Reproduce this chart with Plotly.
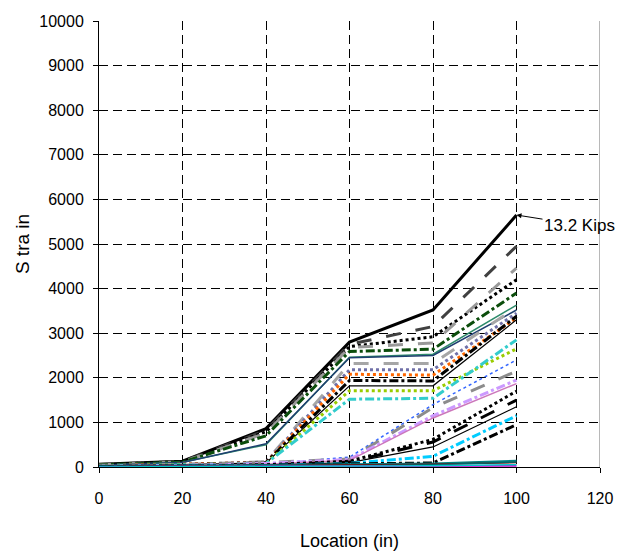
import plotly.graph_objects as go

locations = [0, 20, 40, 60, 80, 100]

# Strain readings per load step (top cluster -> bottom)
s01 = [60, 130, 860, 2800, 3520, 5650]
s02 = [55, 125, 820, 2750, 3150, 4950]
s03 = [50, 120, 790, 2700, 2920, 4200]
s04 = [50, 115, 760, 2680, 2780, 4460]
s05 = [45, 110, 700, 2590, 2640, 3900]
s06 = [40, 105, 500, 2460, 2530, 3630]
s07 = [40, 100, 520, 2450, 2500, 3520]
s08 = [30, 60, 120, 2320, 2320, 3580]
s09 = [30, 60, 110, 2180, 2180, 3450]
s10 = [25, 55, 100, 2080, 2060, 3340]
s11 = [25, 50, 100, 1940, 1930, 3380]
s12 = [20, 50, 90, 1820, 1820, 3300]
s13 = [20, 45, 80, 1710, 1710, 2650]
s14 = [20, 45, 80, 1520, 1540, 2850]
s15 = [20, 40, 70, 220, 1400, 2400]
s16 = [20, 40, 100, 180, 1330, 2150]
s17 = [15, 35, 80, 170, 1150, 1950]
s18 = [15, 30, 60, 150, 1100, 1870]
s19 = [15, 30, 50, 130, 620, 1700]
s20 = [10, 25, 40, 110, 560, 1500]
s21 = [10, 25, 40, 100, 450, 1350]
s22 = [10, 20, 30, 80, 240, 1150]
s23 = [5, 15, 25, 70, 90, 950]
s24 = [10, 20, 40, 60, 80, 140]
s25 = [5, 15, 25, 40, 60, 100]
s26 = [5, 10, 20, 30, 50, 110]
s27 = [0, 5, 10, 15, 20, 30]
s28 = [0, 5, 10, 20, 30, 50]

series = [s01, s02, s03, s04, s05, s06, s07, s08, s09, s10, s11, s12, s13, s14,
          s15, s16, s17, s18, s19, s20, s21, s22, s23, s24, s25, s26, s27, s28]

colors = ["#000000", "#404040", "#000000", "#999999", "#0b4d0b", "#2e8b6b", "#1f3f70",
          "#a6a6a6", "#7070a8", "#ff6600", "#000000", "#000000", "#99cc00", "#33cccc",
          "#3366ff", "#8c8c8c", "#cc99ff", "#cc77bb", "#000000", "#000000", "#000000",
          "#00ccff", "#000000", "#008080", "#800000", "#006666", "#cc00cc", "#00cccc"]
dashes = ["solid", "longdash", "dot", "longdash", "dashdot", "solid", "solid",
          "longdash", "dot", "dot", "dashdot", "solid", "dot", "dashdot",
          "dot", "longdash", "dashdot", "solid", "dot", "longdash", "solid",
          "dashdot", "dashdot", "solid", "solid", "solid", "solid", "solid"]
widths = [3, 3, 3, 3, 3, 1.5, 1.5,
          3, 3, 3, 3, 1.2, 3, 3,
          1.5, 3, 3, 1.5, 3, 3, 1.2,
          3, 3, 2, 1.5, 1.5, 2, 1.5]

FONT = "Liberation Sans, Arial, sans-serif"

fig = go.Figure()
for vals, c, d, w in zip(series, colors, dashes, widths):
    fig.add_trace(go.Scatter(x=locations, y=vals, mode="lines",
                             line=dict(color=c, dash=d, width=w),
                             showlegend=False, hoverinfo="skip"))

fig.add_annotation(x=100, y=5650, xref="x", yref="y", text="13.2 Kips",
                   showarrow=True, arrowhead=2, arrowsize=1, arrowwidth=1,
                   arrowcolor="#000000", ax=63, ay=10,
                   font=dict(family=FONT, size=17, color="#000000"))

fig.add_shape(type="line", xref="x", yref="paper", x0=120, x1=120, y0=0, y1=1,
              line=dict(color="#b8b8b8", width=2))

fig.update_layout(
    width=626, height=555,
    margin=dict(l=99, r=26, t=21, b=88, autoexpand=False),
    paper_bgcolor="white", plot_bgcolor="white",
    font=dict(family=FONT, size=16, color="#000000"),
    xaxis=dict(range=[0, 120], dtick=20, tick0=0, showgrid=True, automargin=False,
               gridcolor="#000000", gridwidth=1, griddash="9px,5px",
               showline=True, linecolor="#000000", linewidth=1,
               ticks="outside", ticklen=5, tickcolor="#000000", tickformat="d",
               ticklabelstandoff=12, zeroline=False,
               title=dict(text="Location (in)", standoff=28,
                          font=dict(family=FONT, size=18))),
    yaxis=dict(range=[0, 10000], dtick=1000, tick0=0, showgrid=True, automargin=False,
               gridcolor="#000000", gridwidth=1, griddash="9px,5px",
               showline=True, linecolor="#000000", linewidth=1,
               ticks="outside", ticklen=5, tickcolor="#000000", tickformat="d",
               ticklabelstandoff=6, zeroline=False,
               title=dict(text="S tra in", standoff=4,
                          font=dict(family=FONT, size=19))),
)

fig.write_html("out.html", config={"displayModeBar": False},
               post_script="document.body.style.margin='0';document.body.style.overflow='hidden';")
